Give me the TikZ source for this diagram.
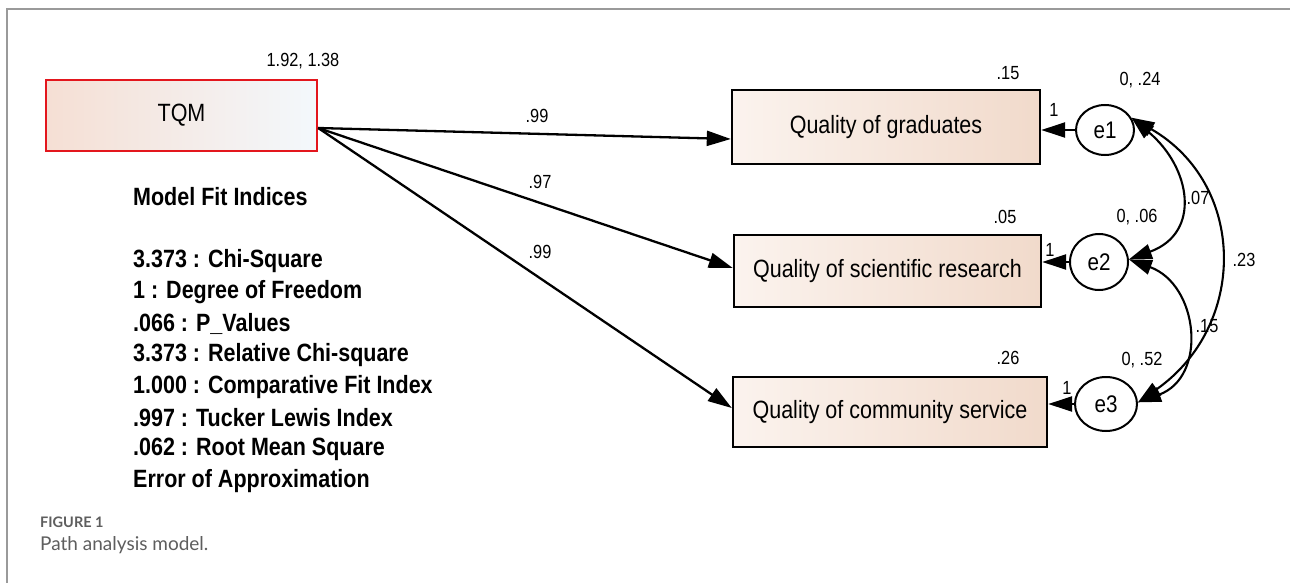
\documentclass[tikz,border=0pt]{standalone}
\usepackage{fontspec}
\setmainfont{Liberation Sans}[FakeStretch=0.86]
\newfontfamily\capfont{Lato}
\usetikzlibrary{arrows.meta,shapes.geometric,calc}
\definecolor{peach}{HTML}{F1DACB}
\definecolor{peachlight}{HTML}{FBF3EE}
\definecolor{tqmleft}{HTML}{F5DFD4}
\definecolor{tqmright}{HTML}{F3F8FC}
\definecolor{tqmred}{HTML}{E3161D}
\definecolor{framegray}{HTML}{9A9A9A}
\definecolor{capgray}{HTML}{5E5E5E}
\tikzset{
  obsbox/.style={draw=black, line width=2.4pt, left color=peachlight, right color=peach, inner sep=0pt, font=\fontsize{25}{30}\selectfont},
  tqmbox/.style={draw=tqmred, line width=2.4pt, left color=tqmleft, right color=tqmright, inner sep=0pt, font=\fontsize{25}{30}\selectfont},
  errnode/.style={ellipse, draw=black, line width=2pt, fill=white, inner sep=0pt, font=\fontsize{24}{28}\selectfont},
  lbl/.style={inner sep=0pt, font=\fontsize{19}{22}\selectfont},
  fitline/.style={anchor=west, inner sep=0pt, font=\bfseries\fontsize{25}{30}\selectfont},
  patharrow/.style={line width=2.3pt, -{Triangle[length=24pt,width=15pt]}},
  cov/.style={line width=2.1pt, {Triangle[length=23pt,width=15pt]}-{Triangle[length=23pt,width=15pt]}}
}
\begin{document}
\begin{tikzpicture}[x=1pt,y=-1pt]
\fill[white] (0,0) rectangle (1290,583);
\useasboundingbox (0,0) rectangle (1290,583);
\draw[framegray, line width=1.8pt] (7,583) -- (7,9) -- (1290,9);

% observed variables
\node[tqmbox, minimum width=271pt, minimum height=71pt] (TQM) at (181.5,115.5) {TQM};
\node[obsbox, minimum width=308pt, minimum height=74pt] (G) at (886,127) {Quality of graduates};
\node[obsbox, minimum width=307pt, minimum height=72pt] (S) at (887.5,271) {Quality of scientific research};
\node[obsbox, minimum width=314pt, minimum height=70pt] (C) at (890,412) {Quality of community service};

% error terms
\node[errnode, minimum width=58pt, minimum height=50pt] (e1) at (1105,130) {e1};
\node[errnode, minimum width=58pt, minimum height=56pt] (e2) at (1099,262) {e2};
\node[errnode, minimum width=62pt, minimum height=54pt] (e3) at (1106,404) {e3};

% paths
\coordinate (src) at ($(TQM.east)+(0,12.5)$);
\draw[patharrow] (src) -- ($(G.west)+(0,12)$);
\draw[patharrow] (src) -- ($(S.west)+(0,-3)$);
\draw[patharrow] (src) -- ($(C.west)+(0,-4)$);

\draw[patharrow] (e1.west) -- (G.east |- e1.west);
\draw[patharrow] (e2.west) -- (S.east |- e2.west);
\draw[patharrow] (e3.west) -- (C.east |- e3.west);

% covariances
\draw[cov] (e1.25) to[out=-40,in=20,looseness=1.4] (e2.5);
\draw[cov] (e1.25) to[out=-30,in=35,looseness=1.2] (e3.3);
\draw[cov] (e2.5) to[out=-20,in=20,looseness=1.33] (e3.3);

% labels
\node[lbl] (v1) at (303,61) {1.92, 1.38};
\node[lbl] (p1) at (537,116) {.99};
\node[lbl] (p2) at (540,182) {.97};
\node[lbl] (p3) at (540,252) {.99};
\node[lbl] (rG) at (1008,73) {.15};
\node[lbl] (rS) at (1005,217) {.05};
\node[lbl] (rC) at (1008,358) {.26};
\node[lbl] (ve1) at (1140,80) {0, .24};
\node[lbl] (ve2) at (1137,217) {0, .06};
\node[lbl] (ve3) at (1142,360) {0, .52};
\node[lbl] (w1) at (1054,110) {1};
\node[lbl] (w2) at (1050,250) {1};
\node[lbl] (w3) at (1067,388) {1};
\node[lbl] (c12) at (1198,198) {.07};
\node[lbl] (c13) at (1244,260) {.23};
\node[lbl] (c23) at (1207,326) {.15};

% fit indices
\node[fitline] (fit0) at (133,197) {Model Fit Indices};
\node[fitline] (fit1) at (133,261) {3.373 : Chi-Square};
\node[fitline] (fit2) at (133,292.4) {1 : Degree of Freedom};
\node[fitline] (fit3) at (133,323.8) {.066 : P\_Values};
\node[fitline] (fit4) at (133,355.2) {3.373 : Relative Chi-square};
\node[fitline] (fit5) at (133,386.6) {1.000 : Comparative Fit Index};
\node[fitline] (fit6) at (133,418) {.997 : Tucker Lewis Index};
\node[fitline] (fit7) at (133,449.4) {.062 : Root Mean Square};
\node[fitline] (fit8) at (133,480.8) {Error of Approximation};

% caption
\node[anchor=west, inner sep=0pt, text=capgray, font=\capfont\bfseries\fontsize{14.5}{17}\selectfont] (figlbl) at (40,522) {FIGURE 1};
\node[anchor=west, inner sep=0pt, text=capgray, font=\capfont\fontsize{19}{22}\selectfont] (figcap) at (40,545) {Path analysis model.};
\end{tikzpicture}
\end{document}
